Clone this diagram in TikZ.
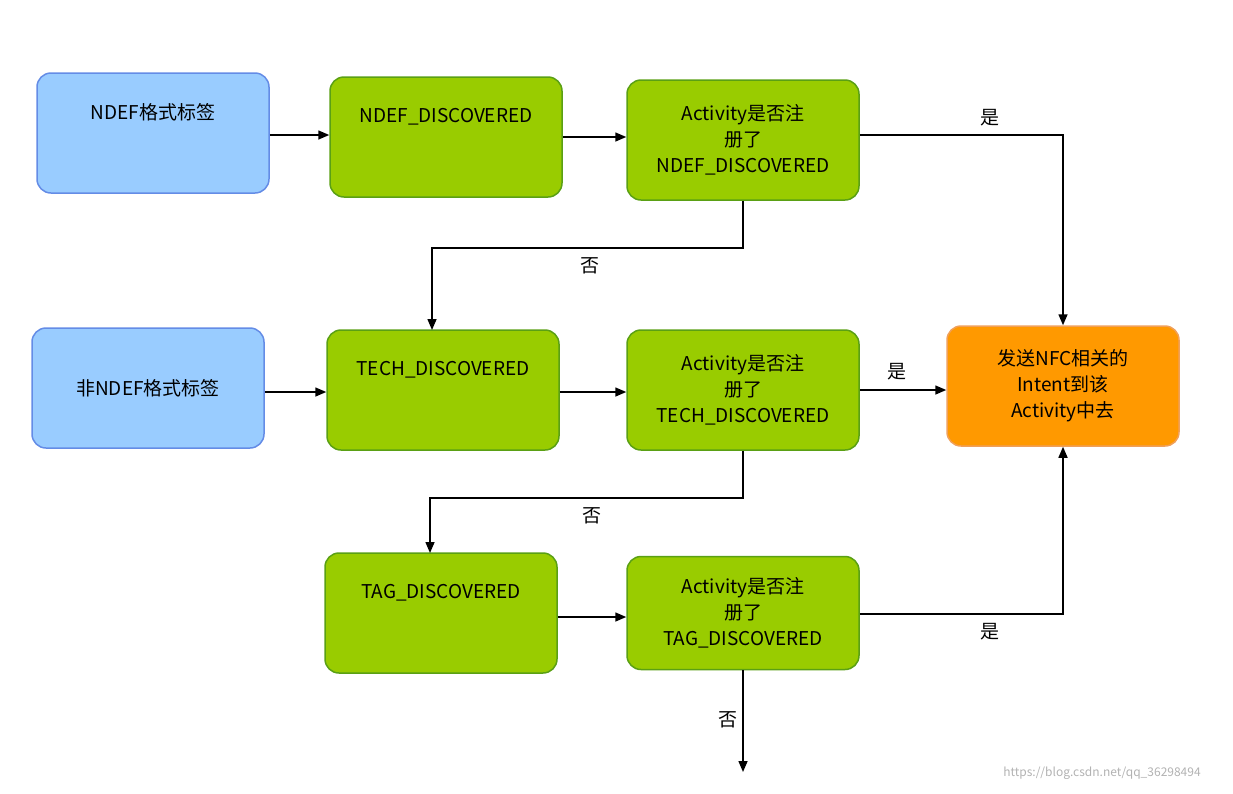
\documentclass[tikz,border=0pt]{standalone}
\usepackage{fontspec}
\setmainfont{Noto Sans CJK SC}
\usetikzlibrary{arrows.meta}
\definecolor{bfill}{RGB}{153,204,255}\definecolor{bdraw}{RGB}{100,140,230}
\definecolor{gfill}{RGB}{153,204,0}\definecolor{gdraw}{RGB}{90,160,20}
\definecolor{ofill}{RGB}{255,153,0}\definecolor{odraw}{RGB}{240,160,90}
\begin{document}
\begin{tikzpicture}[x=1pt,y=-1pt,
 box/.style={rounded corners=14pt,line width=1.5pt,minimum width=232pt,minimum height=120pt,align=center,font=\fontsize{19}{26}\selectfont},
 blue/.style={box,fill=bfill,draw=bdraw},
 green/.style={box,fill=gfill,draw=gdraw},
 org/.style={box,fill=ofill,draw=odraw},
 arr/.style={line width=1.5pt,-{Triangle[length=11pt,width=9pt]}},
 lb/.style={font=\fontsize{19}{22}\selectfont}]
\useasboundingbox (0,0) rectangle (1233,793);
\node[blue] (n1) at (153,133) {NDEF格式标签\\[18pt]};
\node[green] (nd) at (446,137) {NDEF\_DISCOVERED\\[18pt]};
\node[green] (a1) at (743,140) {Activity是否注\\册了\\NDEF\_DISCOVERED};
\node[blue] (n2) at (148,388) {非NDEF格式标签};
\node[green] (td) at (443,390) {TECH\_DISCOVERED\\[18pt]};
\node[green] (a2) at (743,390) {Activity是否注\\册了\\TECH\_DISCOVERED};
\node[org] (o) at (1063,386) {发送NFC相关的\\Intent到该\\Activity中去};
\node[green] (tg) at (441,613) {TAG\_DISCOVERED\\[18pt]};
\node[green,minimum height=113pt] (a3) at (743,613) {Activity是否注\\册了\\TAG\_DISCOVERED};
\coordinate (end) at (743,772);
\draw[arr] (n1.east|-0,135) -- (nd.west|-0,135);
\draw[arr] (nd.east|-0,137) -- (a1.west|-0,137);
\draw[arr] (a1.east|-0,135) -| (o.north);
\node[lb] at (990,118) {是};
\draw[arr] (a1.south) |- (600,248) -| (432,330);
\node[lb] at (590,266) {否};
\draw[arr] (n2.east|-0,392) -- (td.west|-0,392);
\draw[arr] (td.east|-0,392) -- (a2.west|-0,392);
\draw[arr] (a2.east|-0,390) -- (o.west|-0,390);
\node[lb] at (897,372) {是};
\draw[arr] (a2.south) |- (600,498) -| (430,553);
\node[lb] at (592,516) {否};
\draw[arr] (tg.east|-0,617) -- (a3.west|-0,617);
\draw[arr] (a3.east|-0,614) -| (o.south);
\node[lb] at (990,632) {是};
\draw[arr] (a3.south) -- (end);
\node[lb] at (728,720) {否};
\node[font=\fontsize{12}{14}\selectfont,text=gray!60] at (1102,773) {https://blog.csdn.net/qq\_36298494};
\end{tikzpicture}
\end{document}
